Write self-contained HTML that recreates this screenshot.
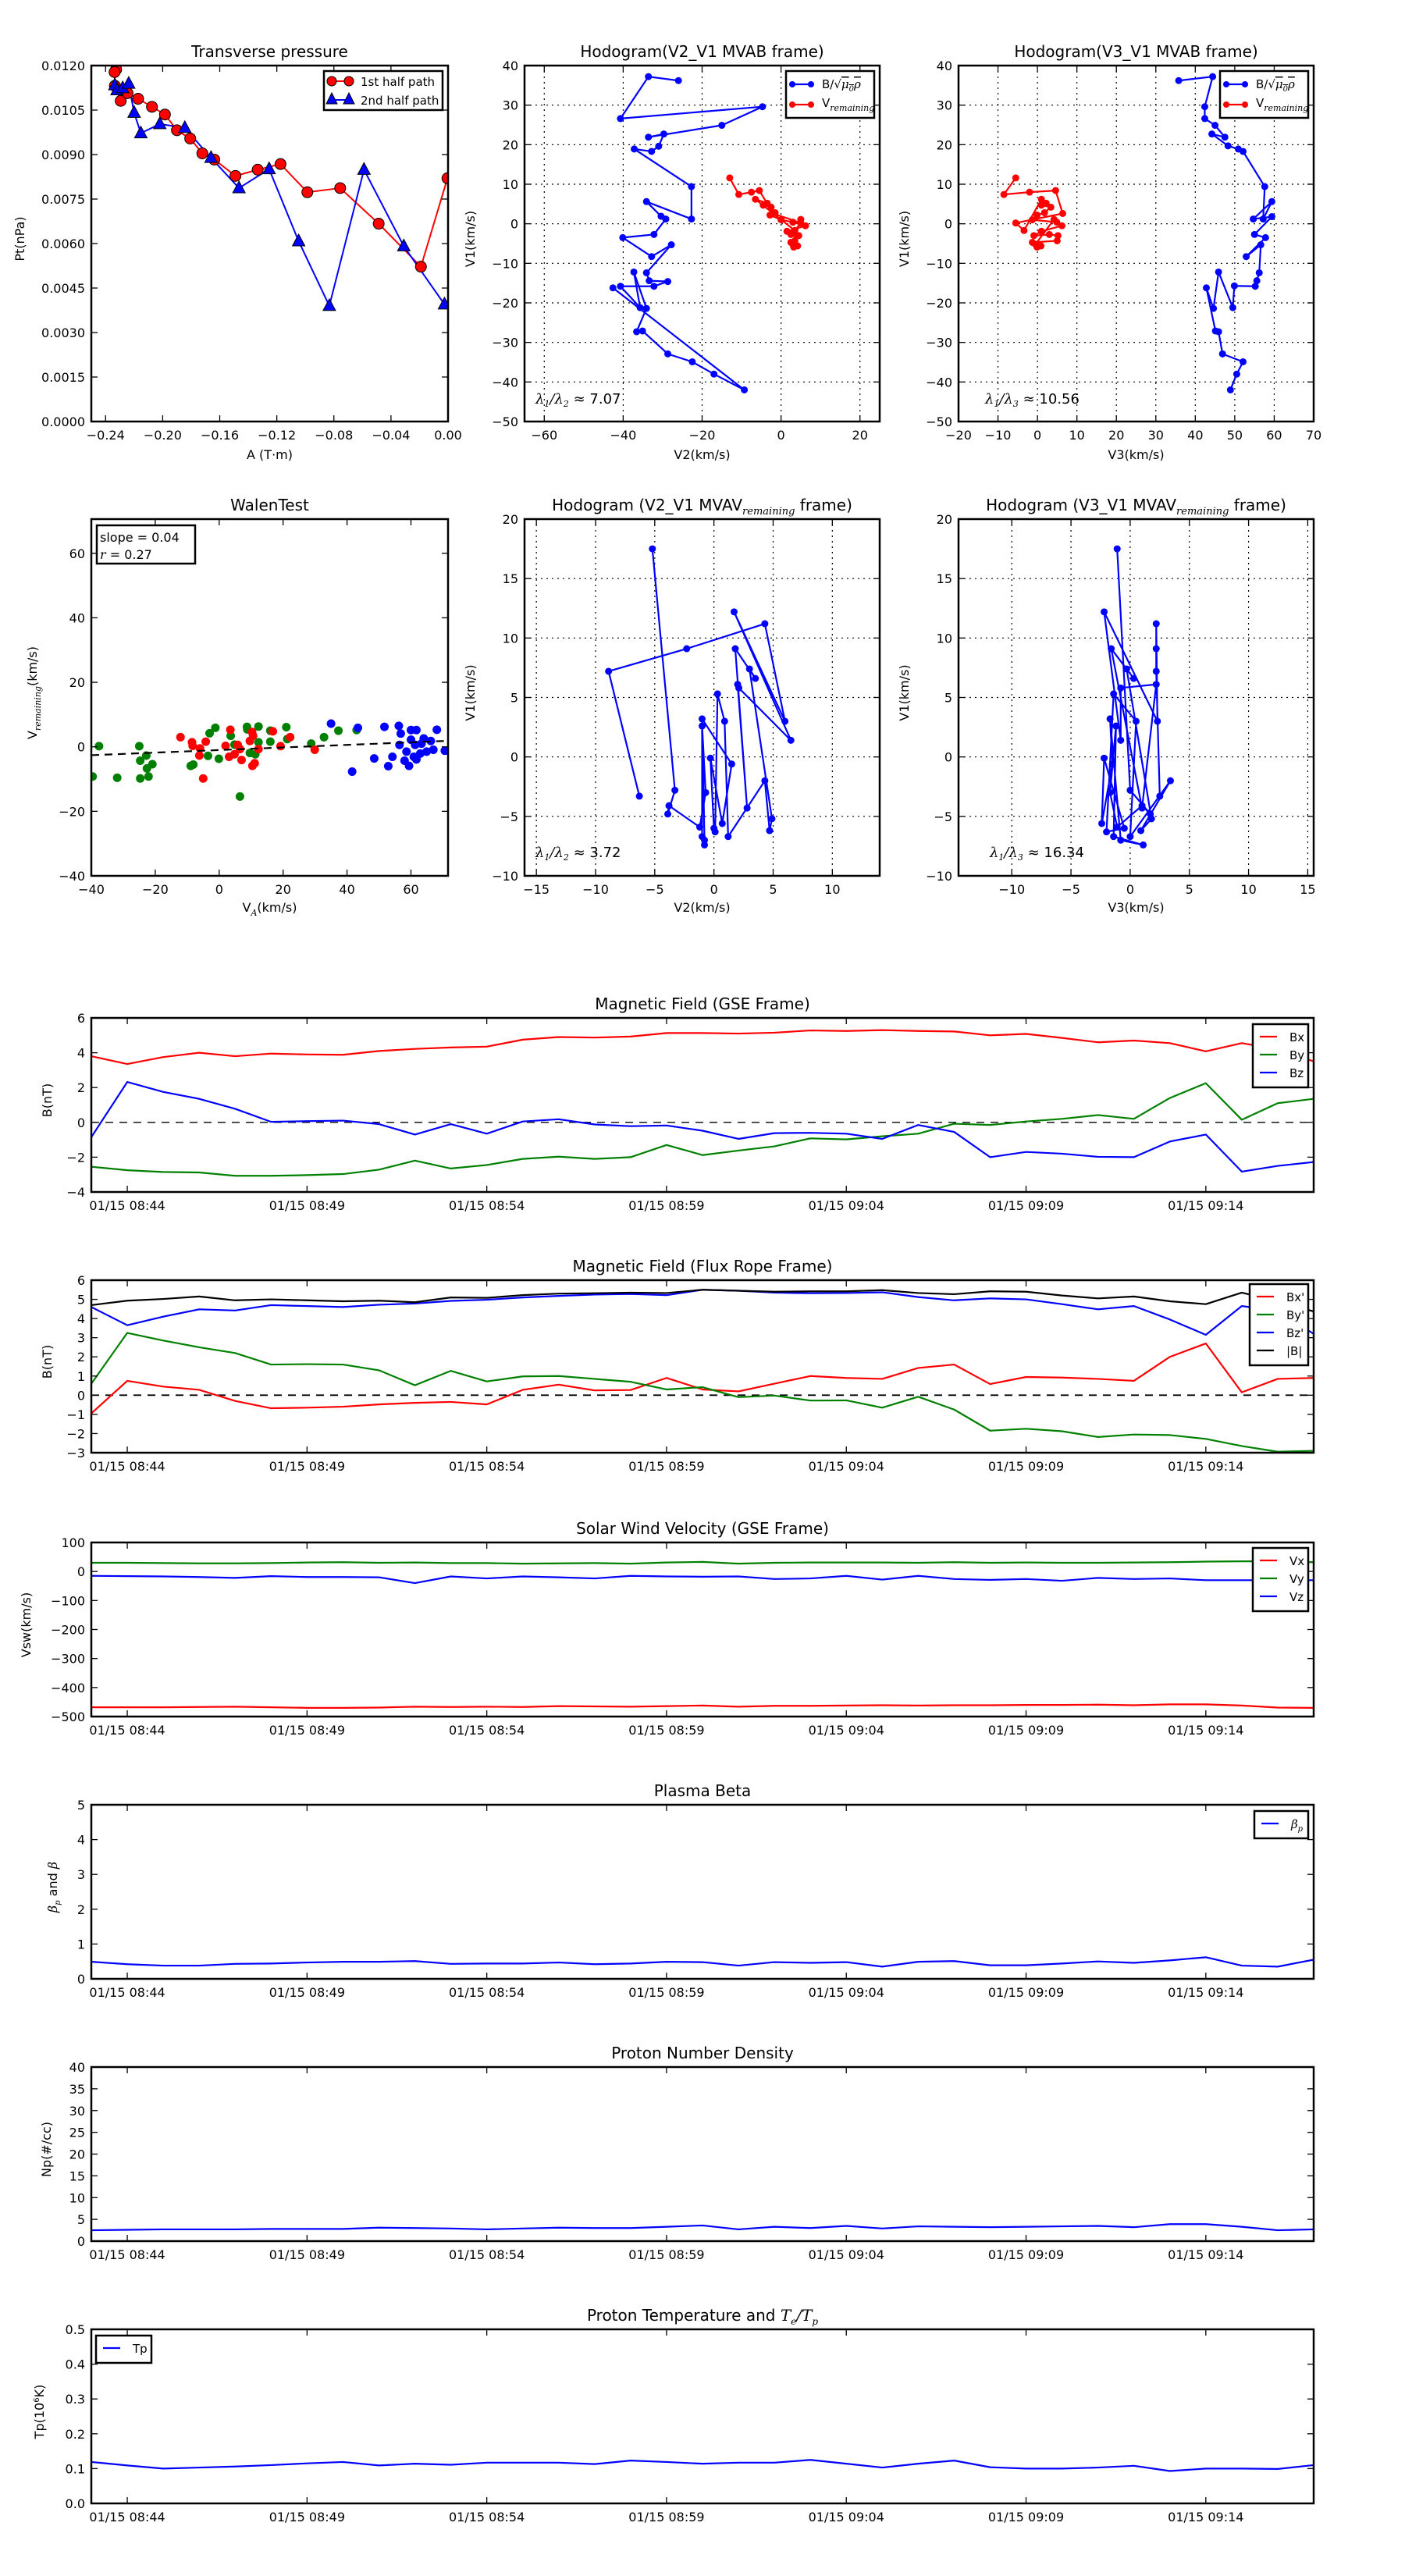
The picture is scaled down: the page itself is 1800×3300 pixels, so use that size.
<!DOCTYPE html>
<html><head><meta charset="utf-8">
<style>body{margin:0;background:#fff}svg{display:block;font-family:"DejaVu Sans","Liberation Sans",sans-serif}</style>
</head><body>
<svg id="fig" xmlns="http://www.w3.org/2000/svg" width="1800" height="3300" viewBox="0 0 1800 3300"><rect width="1800" height="3300" fill="#fff"/></svg>
<script>
// ---------- Transverse pressure ----------
const tpA1=[-0.2326,-0.2337,-0.2335,-0.2294,-0.2246,-0.2172,-0.2075,-0.1984,-0.19,-0.1807,-0.1722,-0.1638,-0.149,-0.1334,-0.1174,-0.0986,-0.0756,-0.0486,-0.019,-0.0004];
const tpP1=[0.01187,0.01178,0.01132,0.01081,0.01107,0.01088,0.01061,0.01035,0.00982,0.00954,0.00904,0.00883,0.00828,0.00849,0.00868,0.00773,0.00787,0.00667,0.00522,0.0082];
const tpA2=[-0.2335,-0.232,-0.228,-0.2238,-0.22,-0.2153,-0.202,-0.1845,-0.1661,-0.1465,-0.1254,-0.1047,-0.0832,-0.0589,-0.031,-0.0025];
const tpP2=[0.01134,0.01117,0.01124,0.01139,0.01041,0.00972,0.01003,0.0099,0.00889,0.00787,0.00851,0.00608,0.0039,0.00849,0.00591,0.00395];
// ---------- Hodogram MVAB ----------
const hbV2=[-26,-33.6,-40.7,-4.7,-15,-33.6,-29.7,-31,-32.8,-37.2,-22.7,-22.7,-34.1,-30.4,-29.2,-32.2,-40.1,-32.8,-27.8,-34.1,-33.4,-28.7,-32.2,-40.7,-35.7,-37.3,-34.1,-36.6,-35.1,-28.7,-22.5,-17,-9.3,-42.6];
const hbV1a=[36.2,37.2,26.6,29.6,24.9,21.9,22.7,19.6,18.3,18.9,9.4,1.2,5.6,1.9,1.2,-2.7,-3.5,-8.3,-5.3,-12.4,-14.4,-14.6,-15.8,-15.8,-21.2,-12.2,-21.4,-27.3,-27.1,-32.9,-34.9,-38,-42,-16.2];
const hbV3=[35.8,44.4,42.4,42.4,45,47.5,44.2,48.3,50.9,52.1,57.6,57.2,59.4,54.7,59.4,55,57.8,52.9,56.6,56.2,55.6,55.2,49.9,49.5,45.9,44.6,42.8,45.1,45.9,46.9,52.1,50.5,48.9];
const hbV1b=[36.2,37.2,29.6,26.6,24.9,21.9,22.7,19.7,18.9,18.3,9.4,1.2,5.6,1.2,1.8,-2.7,-3.5,-8.3,-5.3,-12.4,-14.4,-15.8,-15.7,-21.2,-12.2,-21.4,-16.2,-27.1,-27.3,-32.9,-34.9,-38,-42];
const hrV1=[11.6,7.4,8.0,8.4,2.6,0.2,-1.7,6.2,5.2,4.7,4.2,2.8,2.2,1.0,0.4,-0.5,-1.9,-3.0,-2.7,-3.0,-4.3,-4.7,-5.9,-5.6,-5.2,1.1];
const hrV2=[-13,-10.7,-7.5,-5.5,-2,5,3.5,-6.5,-3.5,-4.5,-2.5,-1.5,-2.8,0,3,6.2,1.5,4,2.5,4.5,3.5,2.5,3.2,4.2,3,5];
const hrV3=[-5.5,-8.5,-2,4.6,6.4,-5.5,-3.4,1,2.2,1,3.4,1.8,-0.1,-1.3,4.9,6.2,1,-0.9,3,5.2,5,-1.3,-0.1,0.9,-0.5,4.2];
// ---------- Walen test ----------
const wgX=[-37.6,-39.6,-31.9,-25,-24.7,-22.8,-22.6,-20.9,-22.1,-24.7,-8.9,-8.1,-3.5,-3,-1.2,-0.1,3.6,4.8,6.5,8.7,8.8,9.6,11.3,12.3,12.3,16,16,21,21.3,28.8,32.8,37.3,43];
const wgY=[0.2,-9.2,-9.6,0.2,-4.3,-2.7,-6.7,-5.4,-9.2,-9.8,-5.9,-5.5,-2.8,4.2,5.9,-3.7,3.4,0.7,-15.4,6.2,5.4,-1.9,-2.3,6.3,1.4,5,1.6,6.1,2.4,1,3,5,5.2];
const wrX=[-12.1,-8.5,-8.3,-6,-4.2,-6.2,-5,2,3.5,3.1,4.8,5.8,6.5,7,9.6,10.3,10.6,10.4,11.1,12.3,16.8,19.2,22.2,29.9];
const wrY=[3,1.4,0.3,-0.5,1.6,-2.7,-9.8,0.3,5.3,-3.1,-2.3,0.6,-0.7,-4.1,1.8,4.6,3.4,-5.9,-5.1,-0.7,4.8,0.2,3,-0.9];
const wbX=[35,43.4,41.6,48.5,51.7,52.9,54.2,56.2,56.8,56.4,58.6,58,59.4,60,61.7,60,61.3,60.9,61.7,62.9,63.3,64,64.9,66.2,67,68.1,70.6];
const wbY=[7.2,5.9,-7.7,-3.6,6.2,-6,-3.1,6.5,4.1,0.6,-1.5,-4.3,-5.9,5.2,5.2,2.2,0.6,-3.1,-3.9,-2.1,1,2.6,-1.5,1.8,-0.9,5.3,-1.2];
const walenSlope=0.04, walenIntercept=-1.0;
// ---------- Hodogram MVAV remaining ----------
const rV1=[-3.3,7.2,9.1,11.2,3.0,12.2,1.4,5.8,6.1,-4.3,9.1,6.6,7.4,-5.2,-6.2,-2.0,-6.7,3.0,5.3,-6.3,-6.0,-0.1,-5.6,-0.6,3.2,-7.0,-7.4,-6.7,2.6,-3.0,-5.9,-4.1,-4.8,-2.8,17.5];
const rV2=[-6.3,-8.9,-2.3,4.3,6.0,1.7,6.5,2.1,2.0,2.8,1.8,3.5,3.0,4.9,4.7,4.3,1.2,0.9,0.3,0.1,0,-0.3,0.7,1.5,-1.0,-0.8,-0.8,-1.0,-1.0,-0.7,-1.2,-3.8,-3.9,-3.3,-5.2];
const rV3=[2.5,2.2,2.2,2.2,2.3,-2.2,-0.8,-0.8,2.2,1.0,-1.6,0.3,-0.3,1.8,0.9,3.4,0,0.5,-1.4,-2.0,-0.5,-2.2,-2.4,-1.5,-1.7,-0.8,1.1,-1.4,-1.2,-1.7,-1.1,1.0,1.7,0,-1.1];
// ---------- Time series (minutes since 08:43) ----------
const minutes=[0,1,2,3,4,5,6,7,8,9,10,11,12,13,14,15,16,17,18,19,20,21,22,23,24,25,26,27,28,29,30,31,32,33,34];
const timeTicks=[1,6,11,16,21,26,31];
const timeTickLabels=["01/15 08:44","01/15 08:49","01/15 08:54","01/15 08:59","01/15 09:04","01/15 09:09","01/15 09:14"];
const gseBx=[3.8,3.35,3.75,4.0,3.8,3.95,3.9,3.88,4.1,4.22,4.3,4.35,4.75,4.9,4.87,4.93,5.13,5.13,5.1,5.15,5.28,5.25,5.3,5.25,5.22,5.0,5.08,4.85,4.6,4.7,4.55,4.08,4.55,4.2,3.5];
const gseBy=[-2.55,-2.75,-2.85,-2.88,-3.07,-3.07,-3.03,-2.97,-2.72,-2.2,-2.65,-2.45,-2.1,-1.97,-2.1,-2.0,-1.3,-1.88,-1.62,-1.38,-0.92,-0.98,-0.8,-0.65,-0.08,-0.15,0.05,0.2,0.42,0.2,1.4,2.25,0.15,1.1,1.35];
const gseBz=[-0.85,2.32,1.75,1.35,0.78,0.03,0.07,0.1,-0.1,-0.7,-0.1,-0.65,0.05,0.18,-0.12,-0.22,-0.18,-0.48,-0.95,-0.62,-0.6,-0.65,-0.95,-0.15,-0.55,-2.0,-1.7,-1.8,-1.98,-2.0,-1.1,-0.7,-2.83,-2.5,-2.28];
const frBx=[-0.95,0.75,0.45,0.28,-0.3,-0.68,-0.65,-0.6,-0.48,-0.4,-0.35,-0.48,0.28,0.55,0.25,0.27,0.9,0.3,0.2,0.6,1.0,0.9,0.85,1.42,1.6,0.58,0.95,0.92,0.85,0.75,2.0,2.7,0.15,0.85,0.9];
const frBy=[0.6,3.25,2.85,2.5,2.2,1.6,1.62,1.6,1.3,0.52,1.27,0.72,0.98,1.0,0.85,0.7,0.3,0.42,-0.1,-0.02,-0.28,-0.27,-0.65,-0.08,-0.75,-1.85,-1.75,-1.88,-2.18,-2.05,-2.08,-2.28,-2.65,-2.95,-2.9];
const frBz=[4.6,3.65,4.1,4.48,4.42,4.7,4.65,4.6,4.72,4.78,4.92,4.98,5.1,5.18,5.25,5.28,5.22,5.5,5.45,5.35,5.32,5.33,5.37,5.12,4.95,5.05,5.0,4.75,4.48,4.65,3.95,3.15,4.65,4.4,3.2];
const frB=[4.7,4.93,5.02,5.15,4.95,5.0,4.95,4.9,4.93,4.85,5.1,5.08,5.22,5.3,5.32,5.35,5.33,5.5,5.45,5.4,5.42,5.42,5.48,5.33,5.27,5.42,5.4,5.2,5.05,5.15,4.9,4.75,5.35,4.9,4.37];
const vx=[-468,-468,-468,-467,-466,-468,-470,-470,-469,-466,-467,-466,-467,-464,-465,-466,-464,-462,-466,-463,-463,-462,-461,-462,-461,-461,-460,-460,-459,-461,-458,-458,-462,-469,-470];
const vy=[30,30,29,28,28,29,31,32,30,31,29,29,27,28,29,27,31,33,27,30,31,31,31,30,32,30,31,30,30,31,32,34,35,35,32];
const vz=[-15,-16,-17,-19,-22,-16,-19,-19,-20,-40,-17,-24,-17,-20,-24,-15,-17,-18,-17,-26,-24,-15,-28,-15,-26,-29,-26,-32,-22,-26,-24,-30,-30,-30,-30];
const betaP=[0.49,0.42,0.38,0.38,0.43,0.44,0.47,0.49,0.49,0.51,0.43,0.44,0.44,0.47,0.42,0.44,0.49,0.48,0.38,0.48,0.46,0.48,0.35,0.49,0.51,0.39,0.39,0.44,0.5,0.46,0.53,0.62,0.38,0.35,0.55];
const densNp=[2.5,2.6,2.7,2.7,2.7,2.8,2.8,2.8,3.1,3,2.9,2.7,2.9,3.1,3,3,3.3,3.6,2.7,3.3,3,3.5,2.9,3.4,3.3,3.2,3.3,3.4,3.5,3.2,3.9,3.9,3.3,2.5,2.7];
const tempTp=[0.119,0.109,0.1,0.103,0.106,0.11,0.115,0.119,0.109,0.114,0.111,0.117,0.117,0.117,0.113,0.123,0.119,0.114,0.117,0.117,0.125,0.114,0.103,0.114,0.123,0.104,0.1,0.1,0.103,0.108,0.093,0.1,0.1,0.099,0.11];

const NS='http://www.w3.org/2000/svg';
const svg=document.getElementById('fig');
function mk(tag,attrs,parent){const e=document.createElementNS(NS,tag);for(const k in attrs)e.setAttribute(k,attrs[k]);(parent||svg).appendChild(e);return e;}
function txt(parent,x,y,s,size,anchor,name,rich){
  const t=mk('text',{x:x,y:y,'font-size':size,'text-anchor':anchor||'middle',fill:'#000'},parent);
  if(rich)t.innerHTML=s;else t.textContent=s;
  
  
  return t;
}
function range(a,b,s){const r=[];for(let v=a;v<=b+1e-9;v+=s)r.push(+v.toFixed(6));return r;}
function fmt(v,d){const s=v.toFixed(d);return s.replace('-','\u2212');}
let clipN=0;
function axes(o){
  const g=mk('g',{});
  
  
  const sx=v=>o.x+(v-o.xmin)/(o.xmax-o.xmin)*o.w;
  const sy=v=>o.y+o.h-(v-o.ymin)/(o.ymax-o.ymin)*o.h;
  clipN++;
  const cp=mk('clipPath',{id:'cl'+clipN},g);
  mk('rect',{x:o.x,y:o.y,width:o.w,height:o.h},cp);
  if(o.grid){
    const gg=mk('g',{stroke:'#000','stroke-width':1.2,'stroke-dasharray':'2,5'},g);
    
    
    o.xticks.forEach(v=>{if(sx(v)>o.x+1&&sx(v)<o.x+o.w-1)mk('line',{x1:sx(v),x2:sx(v),y1:o.y,y2:o.y+o.h},gg);});
    o.yticks.forEach(v=>{if(sy(v)>o.y+1&&sy(v)<o.y+o.h-1)mk('line',{x1:o.x,x2:o.x+o.w,y1:sy(v),y2:sy(v)},gg);});
  }
  const plot=mk('g',{'clip-path':'url(#cl'+clipN+')'},g);
  
  
  const tk=mk('g',{stroke:'#000','stroke-width':1.3},g);
  
  
  o.xticks.forEach((v,i)=>{const X=sx(v);
    mk('line',{x1:X,x2:X,y1:o.y+o.h,y2:o.y+o.h-8},tk);mk('line',{x1:X,x2:X,y1:o.y,y2:o.y+8},tk);
    txt(g,X,o.y+o.h+23,o.xlabels[i],16,'middle','x-tick-label');});
  o.yticks.forEach((v,i)=>{const Y=sy(v);
    mk('line',{x1:o.x,x2:o.x+8,y1:Y,y2:Y},tk);mk('line',{x1:o.x+o.w,x2:o.x+o.w-8,y1:Y,y2:Y},tk);
    txt(g,o.x-8,Y+6,o.ylabels[i],16,'end','y-tick-label');});
  const fr=mk('rect',{x:o.x,y:o.y,width:o.w,height:o.h,fill:'none',stroke:'#000','stroke-width':2.5},g);
  
  
  txt(g,o.x+o.w/2,o.y-11,o.title,20,'middle','chart-title',true);
  if(o.xlabel)txt(g,o.x+o.w/2,o.y+o.h+o.xlo,o.xlabel,16,'middle','x-axis-title',true);
  if(o.ylabel){const cx=o.x-o.ylo,cy=o.y+o.h/2;
    const t=txt(g,cx+6,cy,o.ylabel,16,'middle','y-axis-title',true);
    t.setAttribute('transform','rotate(-90 '+cx+' '+cy+')');}
  return {g,plot,sx,sy};
}
function line(ax,xs,ys,color,w,name,dash){
  const p=mk('polyline',{points:xs.map((x,i)=>ax.sx(x)+','+ax.sy(ys[i])).join(' '),fill:'none',stroke:color,'stroke-width':w||2.2,'stroke-linejoin':'round'},ax.plot);
  if(dash)p.setAttribute('stroke-dasharray',dash);
  
  
  return p;
}
function dots(ax,xs,ys,color,r,name,stroke){
  const g=mk('g',{fill:color},ax.plot);
  
  
  xs.forEach((x,i)=>{const c=mk('circle',{cx:ax.sx(x),cy:ax.sy(ys[i]),r:r},g);
    if(stroke){c.setAttribute('stroke','#000');c.setAttribute('stroke-width',1);}
    
    });
}
function tris(ax,xs,ys,color,name){
  const g=mk('g',{fill:color,stroke:'#000','stroke-width':1},ax.plot);
  
  
  xs.forEach((x,i)=>{const X=ax.sx(x),Y=ax.sy(ys[i]);
    const p=mk('polygon',{points:(X)+','+(Y-9)+' '+(X-8)+','+(Y+6)+' '+(X+8)+','+(Y+6)},g);
    
    });
}
function legendBox(x,y,w,h,name){
  const r=mk('rect',{x:x,y:y,width:w,height:h,fill:'#fff',stroke:'#000','stroke-width':2.5});
  
  
}
const MATH='font-family="DejaVu Serif" font-style="italic"';
const SQ='B/\u221A<tspan '+MATH+' text-decoration="overline">\u03BC<tspan font-size="10" dy="4">0</tspan><tspan dy="-4">\u03C1</tspan></tspan>';
const VREM='V<tspan '+MATH+' font-size="11" dy="5">remaining</tspan>';

// ===== Panel 1 Transverse pressure =====
const yt1=range(0,0.012,0.0015);
const a1=axes({name:'transverse-pressure-chart',x:117,y:84,w:457,h:456,xmin:-0.25,xmax:0,ymin:0,ymax:0.012,
  xticks:range(-0.24,0,0.04),xlabels:range(-0.24,0,0.04).map(v=>fmt(v,2)),yticks:yt1,ylabels:yt1.map(v=>v.toFixed(4)),
  title:'Transverse pressure',xlabel:'A (T\u00B7m)',xlo:48,ylabel:'Pt(nPa)',ylo:86});
line(a1,tpA1,tpP1,'#f00',2,'first-half-path-line');
line(a1,tpA2,tpP2,'#00f',2,'second-half-path-line');
dots(a1,tpA1,tpP1,'#f00',7,'first-half-path-markers',true);
tris(a1,tpA2,tpP2,'#00f','second-half-path-markers');
legendBox(415,91,152,50,'pressure-legend');
{const g=svg;
 mk('line',{x1:425,x2:447,y1:104,y2:104,stroke:'#f00','stroke-width':2});
 [425,447].forEach(X=>mk('circle',{cx:X,cy:104,r:6,fill:'#f00',stroke:'#000'}));
 txt(g,462,110,'1st half path',15,'start','legend-entry');
 mk('line',{x1:425,x2:447,y1:128,y2:128,stroke:'#00f','stroke-width':2});
 [425,447].forEach(X=>mk('polygon',{points:X+',119 '+(X-7)+',133 '+(X+7)+',133',fill:'#00f',stroke:'#000'}));
 txt(g,462,134,'2nd half path',15,'start','legend-entry');}

// ===== Hodogram legends helper =====
function hodoLegend(x,y){
  legendBox(x,y,113,60,'hodogram-legend');
  mk('line',{x1:x+8,x2:x+32,y1:y+17,y2:y+17,stroke:'#00f','stroke-width':2.2});
  [x+8,x+32].forEach(X=>mk('circle',{cx:X,cy:y+17,r:4,fill:'#00f'}));
  txt(svg,x+46,y+22,SQ,15,'start','legend-entry',true);
  mk('line',{x1:x+8,x2:x+32,y1:y+43,y2:y+43,stroke:'#f00','stroke-width':2.2});
  [x+8,x+32].forEach(X=>mk('circle',{cx:X,cy:y+43,r:4,fill:'#f00'}));
  txt(svg,x+46,y+46,VREM,15,'start','legend-entry',true);
}
const yt2=range(-50,40,10);
// ===== Panel 2 =====
const a2=axes({name:'hodogram-v2-v1-mvab',x:672,y:84,w:455,h:456,xmin:-65,xmax:25,ymin:-50,ymax:40,grid:true,
  xticks:range(-60,20,20),xlabels:range(-60,20,20).map(v=>fmt(v,0)),yticks:yt2,ylabels:yt2.map(v=>fmt(v,0)),
  title:'Hodogram(V2_V1 MVAB frame)',xlabel:'V2(km/s)',xlo:48,ylabel:'V1(km/s)',ylo:64});
line(a2,hbV2,hbV1a,'#00f',2.2,'magnetic-hodogram-line');dots(a2,hbV2,hbV1a,'#00f',4.5,'magnetic-hodogram-points');
line(a2,hrV2,hrV1,'#f00',2.2,'velocity-hodogram-line');dots(a2,hrV2,hrV1,'#f00',4.5,'velocity-hodogram-points');
hodoLegend(1007,91);
txt(a2.g,686,517,'<tspan '+MATH+'>\u03BB<tspan font-size="11" dy="4">1</tspan><tspan dy="-4">/\u03BB</tspan><tspan font-size="11" dy="4">2</tspan></tspan><tspan dy="-4"> \u2248 7.07</tspan>',18,'start','eigenvalue-ratio',true);
// ===== Panel 3 =====
const a3=axes({name:'hodogram-v3-v1-mvab',x:1228,y:84,w:455,h:456,xmin:-20,xmax:70,ymin:-50,ymax:40,grid:true,
  xticks:range(-20,70,10),xlabels:range(-20,70,10).map(v=>fmt(v,0)),yticks:yt2,ylabels:yt2.map(v=>fmt(v,0)),
  title:'Hodogram(V3_V1 MVAB frame)',xlabel:'V3(km/s)',xlo:48,ylabel:'V1(km/s)',ylo:64});
line(a3,hbV3,hbV1b,'#00f',2.2,'magnetic-hodogram-line');dots(a3,hbV3,hbV1b,'#00f',4.5,'magnetic-hodogram-points');
line(a3,hrV3,hrV1,'#f00',2.2,'velocity-hodogram-line');dots(a3,hrV3,hrV1,'#f00',4.5,'velocity-hodogram-points');
hodoLegend(1563,91);
txt(a3.g,1262,517,'<tspan '+MATH+'>\u03BB<tspan font-size="11" dy="4">1</tspan><tspan dy="-4">/\u03BB</tspan><tspan font-size="11" dy="4">3</tspan></tspan><tspan dy="-4"> \u2248 10.56</tspan>',18,'start','eigenvalue-ratio',true);

// ===== Walen test =====
const ytw=range(-40,60,20);
const a4=axes({name:'walen-test-chart',x:117,y:665,w:457,h:457,xmin:-40,xmax:71.6,ymin:-40,ymax:70.6,
  xticks:ytw,xlabels:ytw.map(v=>fmt(v,0)),yticks:ytw,ylabels:ytw.map(v=>fmt(v,0)),
  title:'WalenTest',xlabel:'V<tspan '+MATH+' font-size="11" dy="5">A</tspan><tspan dy="-5">(km/s)</tspan>',xlo:46,
  ylabel:'V<tspan '+MATH+' font-size="11" dy="5">remaining</tspan><tspan dy="-5">(km/s)</tspan>',ylo:70});
dots(a4,wgX,wgY,'#008000',5.5,'walen-green-points');
dots(a4,wrX,wrY,'#f00',5.5,'walen-red-points');
dots(a4,wbX,wbY,'#00f',5.5,'walen-blue-points');
line(a4,[-40,71.6],[walenSlope*-40+walenIntercept,walenSlope*71.6+walenIntercept],'#000',2.2,'walen-fit-line','10,7');
legendBox(124,673,126,49,'walen-stats-box');
txt(svg,128,694,'slope = 0.04',16,'start','slope-text');
txt(svg,128,716,'<tspan '+MATH+'>r</tspan> = 0.27',16,'start','correlation-text',true);

// ===== Row 2 hodograms =====
const yt5=range(-10,20,5);
const a5=axes({name:'hodogram-v2-v1-mvav',x:672,y:665,w:455,h:457,xmin:-16,xmax:14,ymin:-10,ymax:20,grid:true,
  xticks:range(-15,10,5),xlabels:range(-15,10,5).map(v=>fmt(v,0)),yticks:yt5,ylabels:yt5.map(v=>fmt(v,0)),
  title:'Hodogram (V2_V1 MVAV<tspan '+MATH+' font-size="13" dy="5">remaining</tspan><tspan dy="-5"> frame)</tspan>',xlabel:'V2(km/s)',xlo:46,ylabel:'V1(km/s)',ylo:64});
line(a5,rV2,rV1,'#00f',2.2,'hodogram-line');dots(a5,rV2,rV1,'#00f',4.5,'hodogram-points');
txt(a5.g,686,1098,'<tspan '+MATH+'>\u03BB<tspan font-size="11" dy="4">1</tspan><tspan dy="-4">/\u03BB</tspan><tspan font-size="11" dy="4">2</tspan></tspan><tspan dy="-4"> \u2248 3.72</tspan>',18,'start','eigenvalue-ratio',true);
const a6=axes({name:'hodogram-v3-v1-mvav',x:1228,y:665,w:455,h:457,xmin:-14.5,xmax:15.5,ymin:-10,ymax:20,grid:true,
  xticks:range(-10,15,5),xlabels:range(-10,15,5).map(v=>fmt(v,0)),yticks:yt5,ylabels:yt5.map(v=>fmt(v,0)),
  title:'Hodogram (V3_V1 MVAV<tspan '+MATH+' font-size="13" dy="5">remaining</tspan><tspan dy="-5"> frame)</tspan>',xlabel:'V3(km/s)',xlo:46,ylabel:'V1(km/s)',ylo:64});
line(a6,rV3,rV1,'#00f',2.2,'hodogram-line');dots(a6,rV3,rV1,'#00f',4.5,'hodogram-points');
txt(a6.g,1268,1098,'<tspan '+MATH+'>\u03BB<tspan font-size="11" dy="4">1</tspan><tspan dy="-4">/\u03BB</tspan><tspan font-size="11" dy="4">3</tspan></tspan><tspan dy="-4"> \u2248 16.34</tspan>',18,'start','eigenvalue-ratio',true);

// ===== Time series panels =====
function ts(o){
  return axes(Object.assign({x:117,w:1566,h:223,xmin:0,xmax:34,xticks:timeTicks,xlabels:timeTickLabels},o));
}
function tsLegend(x,y,w,entries,name){
  legendBox(x,y,w,entries.length*23+12,name);
  entries.forEach((e,i)=>{const Y=y+16+i*23;
    mk('line',{x1:x+9,x2:x+31,y1:Y,y2:Y,stroke:e[0],'stroke-width':2.2});
    txt(svg,x+47,Y+6,e[1],15,'start','legend-entry',true);});
}
const ytg=range(-4,6,2);
const b1=ts({name:'magnetic-field-gse-chart',y:1304,ymin:-4,ymax:6,yticks:ytg,ylabels:ytg.map(v=>fmt(v,0)),title:'Magnetic Field (GSE Frame)',ylabel:'B(nT)',ylo:51});
line(b1,[0,34],[0,0],'#000',1.3,'zero-line','10,8');
line(b1,minutes,gseBx,'#f00',2.2,'bx-line');line(b1,minutes,gseBy,'#008000',2.2,'by-line');line(b1,minutes,gseBz,'#00f',2.2,'bz-line');
tsLegend(1605,1312,71,[['#f00','Bx'],['#008000','By'],['#00f','Bz']],'gse-legend');

const ytf=range(-3,6,1);
const b2=ts({name:'magnetic-field-flux-rope-chart',y:1640,h:221,ymin:-3,ymax:6,yticks:ytf,ylabels:ytf.map(v=>fmt(v,0)),title:'Magnetic Field (Flux Rope Frame)',ylabel:'B(nT)',ylo:51});
line(b2,[0,34],[0,0],'#000',1.8,'zero-line','10,8');
line(b2,minutes,frBx,'#f00',2.2,'bx-prime-line');line(b2,minutes,frBy,'#008000',2.2,'by-prime-line');line(b2,minutes,frBz,'#00f',2.2,'bz-prime-line');line(b2,minutes,frB,'#000',2.2,'b-magnitude-line');
tsLegend(1601,1645,75,[['#f00',"Bx'"],['#008000',"By'"],['#00f',"Bz'"],['#000','|B|']],'flux-rope-legend');

const ytv=range(-500,100,100);
const b3=ts({name:'solar-wind-velocity-chart',y:1976,ymin:-500,ymax:100,yticks:ytv,ylabels:ytv.map(v=>fmt(v,0)),title:'Solar Wind Velocity (GSE Frame)',ylabel:'Vsw(km/s)',ylo:78});
line(b3,minutes,vx,'#f00',2.2,'vx-line');line(b3,minutes,vy,'#008000',2.2,'vy-line');line(b3,minutes,vz,'#00f',2.2,'vz-line');
tsLegend(1605,1983,71,[['#f00','Vx'],['#008000','Vy'],['#00f','Vz']],'velocity-legend');

const ytb=range(0,5,1);
const b4=ts({name:'plasma-beta-chart',y:2312,ymin:0,ymax:5,yticks:ytb,ylabels:ytb.map(v=>fmt(v,0)),title:'Plasma Beta',
  ylabel:'<tspan '+MATH+'>\u03B2<tspan font-size="10" dy="4">p</tspan></tspan><tspan dy="-4"> and </tspan><tspan '+MATH+'>\u03B2</tspan>',ylo:44});
line(b4,minutes,betaP,'#00f',2.2,'beta-p-line');
tsLegend(1607,2320,69,[['#00f','<tspan '+MATH+'>\u03B2<tspan font-size="10" dy="4">p</tspan></tspan>']],'beta-legend');

const ytd=range(0,40,5);
const b5=ts({name:'proton-density-chart',y:2648,ymin:0,ymax:40,yticks:ytd,ylabels:ytd.map(v=>fmt(v,0)),title:'Proton Number Density',ylabel:'Np(#/cc)',ylo:52});
line(b5,minutes,densNp,'#00f',2.2,'density-line');

const ytt=range(0,0.5,0.1);
const b6=ts({name:'proton-temperature-chart',y:2984,ymin:0,ymax:0.5,yticks:ytt,ylabels:ytt.map(v=>v.toFixed(1)),
  title:'Proton Temperature and <tspan '+MATH+'>T<tspan font-size="12" dy="5">e</tspan><tspan dy="-5">/T</tspan><tspan font-size="12" dy="5">p</tspan></tspan>',
  ylabel:'Tp(10<tspan font-size="10" dy="-6">6</tspan><tspan dy="6">K)</tspan>',ylo:61});
line(b6,minutes,tempTp,'#00f',2.2,'tp-line');
tsLegend(123,2992,71,[['#00f','Tp']],'tp-legend');
</script>
</body></html>
